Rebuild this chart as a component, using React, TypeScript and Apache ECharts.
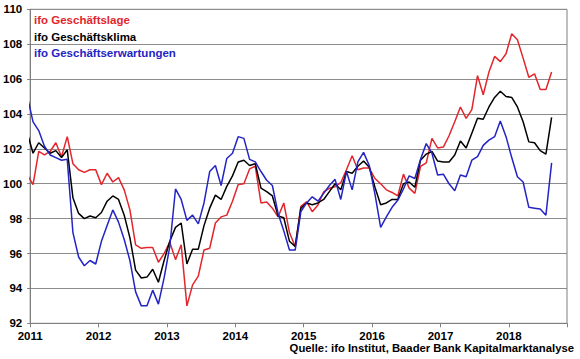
import React, { useEffect, useRef } from "react";
import * as echarts from "echarts";

// First data month: December 2010 (clipped at the left edge), monthly to August 2018
const START_YEAR = 2010;
const START_MONTH = 12;

const seriesNames = ["ifo Geschäftslage", "ifo Geschäftsklima", "ifo Geschäftserwartungen"];
const sourceText = "Quelle: ifo Institut, Baader Bank Kapitalmarktanalyse";

const geschaeftslage = [
  100.5,
  99.95, 101.85, 101.65, 101.85, 102.35, 101.55, 102.7, 101.15, 100.8, 100.65, 100.8, 100.8,
  99.95, 100.6, 100.1, 100.35, 99.65, 98.5, 96.5, 96.3, 96.35, 96.35, 95.5, 96.0,
  96.65, 95.65, 96.5, 93.0, 94.2, 94.7, 96.2, 96.3, 97.75, 98.1, 98.2, 99.0,
  99.95, 100.0, 100.85, 101.0, 98.9, 98.95, 98.6, 98.1, 98.9, 97.2, 96.4, 98.7,
  98.97, 98.4, 98.78, 99.54, 99.74, 99.83, 100.06, 100.8, 101.6, 100.8, 100.9, 100.9,
  100.3, 100.0, 99.65, 99.5, 99.3, 100.55, 99.75, 99.45, 101.0, 101.2, 102.6, 102.05,
  102.1, 102.75, 103.55, 104.4, 103.75, 104.25, 106.2, 105.1, 106.4, 107.3, 107.0, 107.45,
  108.6, 108.25, 107.2, 106.1, 106.3, 105.4, 105.4, 106.4,
];

const geschaeftsklima = [
  102.9,
  101.75, 102.35, 102.05, 101.75, 101.9, 101.5, 101.95, 99.2, 98.3, 98.0, 98.15, 98.05,
  98.35, 99.0, 99.3, 99.1, 98.2, 96.9, 95.05, 94.6, 94.65, 95.1, 94.35, 95.6,
  96.7, 97.5, 97.75, 95.4, 96.25, 96.25, 97.6, 98.6, 99.35, 99.1, 99.85, 100.45,
  101.25, 101.35, 101.05, 101.15, 99.75, 99.55, 99.3, 98.15, 98.05, 96.7, 96.4, 98.6,
  98.9, 98.8, 98.9, 99.1, 99.55, 100.0, 99.65, 100.7, 100.6, 101.0, 101.3, 100.95,
  99.8, 98.8, 98.9, 99.1, 99.1, 100.0, 100.1, 99.8, 101.35, 101.7, 101.85, 101.3,
  101.25, 101.25, 101.65, 102.45, 102.05, 102.9, 103.75, 103.7, 104.4, 104.95, 105.3, 105.0,
  104.95, 104.4, 103.55, 102.4, 102.35, 101.9, 101.7, 103.8,
];

const geschaeftserwartungen = [
  105.0,
  103.55, 103.05, 102.15, 101.65, 101.5, 101.35, 101.4, 97.2, 95.8, 95.3, 95.6, 95.4,
  96.7, 97.6, 98.5, 97.8, 96.8, 95.6, 93.8, 93.0, 93.0, 93.9, 93.1, 94.6,
  96.4, 99.7, 99.1, 97.9, 98.2, 97.7, 98.9, 100.7, 101.05, 99.9, 101.45, 101.75,
  102.7, 102.6, 101.4, 101.25, 100.7, 100.2, 99.9, 98.3, 97.3, 96.2, 96.2, 98.4,
  98.9, 99.25, 99.0, 99.45, 99.9, 100.25, 99.1, 100.7, 99.65, 101.25, 101.8, 101.05,
  99.4, 97.5, 98.1, 98.65, 99.05, 99.7, 100.45, 100.3, 101.4, 102.3, 101.75, 100.5,
  100.55, 100.0, 99.6, 100.5, 100.4, 101.35, 101.55, 102.2, 102.5, 102.7, 103.6, 102.7,
  101.5, 100.4, 100.1, 98.65, 98.6, 98.55, 98.2, 101.2,
];

const seriesColors = ["#e2262c", "#000000", "#2424c4"];
const FONT = "'Liberation Sans', Arial, sans-serif";

function toPoints(values: number[]): [number, number][] {
  return values.map((v, i) => {
    const m = START_MONTH - 1 + i;
    const year = START_YEAR + Math.floor(m / 12);
    const month = m % 12;
    return [year + (month + 0.5) / 12, v];
  });
}

export default function App() {
  const ref = useRef<HTMLDivElement>(null);
  useEffect(() => {
    if (!ref.current) return;
    const chart = echarts.init(ref.current, undefined, { renderer: "svg" });
    const allData = [geschaeftslage, geschaeftsklima, geschaeftserwartungen];
    chart.setOption({
      animation: false,
      backgroundColor: "#ffffff",
      grid: {
        left: 30,
        right: 13,
        top: 9.3,
        bottom: 35.7,
        show: true,
        borderColor: "#7f7f7f",
        borderWidth: 1,
      },
      xAxis: {
        type: "value",
        min: 2011,
        max: 2018.85,
        interval: 1,
        axisLine: { show: true, onZero: false, lineStyle: { color: "#7f7f7f", width: 1 } },
        axisTick: { show: true, length: 4, lineStyle: { color: "#7f7f7f" } },
        splitLine: { show: false },
        axisLabel: {
          formatter: (v: number) => (Math.abs(v - Math.round(v)) < 1e-6 ? String(Math.round(v)) : ""),
          color: "#000",
          fontWeight: "bold",
          fontSize: 11.5,
          fontFamily: FONT,
          margin: 7,
        },
      },
      yAxis: {
        type: "value",
        min: 92,
        max: 110,
        interval: 2,
        axisLine: { show: true, lineStyle: { color: "#7f7f7f", width: 1 } },
        axisTick: { show: true, length: 3, lineStyle: { color: "#7f7f7f" } },
        splitLine: { show: true, lineStyle: { color: "#8c8c8c", width: 1 } },
        axisLabel: {
          color: "#000",
          fontWeight: "bold",
          fontSize: 11.5,
          fontFamily: FONT,
          margin: 8,
        },
      },
      series: allData.map((d, k) => ({
        name: seriesNames[k],
        type: "line",
        data: toPoints(d),
        showSymbol: false,
        symbol: "none",
        clip: true,
        lineStyle: { color: seriesColors[k], width: 1.5 },
        itemStyle: { color: seriesColors[k] },
        z: 2 + k,
      })),
      graphic: [
        ...seriesNames.map((n, k) => ({
          type: "text",
          left: 34,
          top: 14 + k * 16.5,
          style: {
            text: n,
            fill: seriesColors[k],
            font: `bold 11.5px ${FONT}`,
          },
          z: 10,
        })),
        {
          type: "text",
          right: 6,
          top: 342,
          style: {
            text: sourceText,
            fill: "#000",
            font: `bold 11.3px ${FONT}`,
          },
          z: 10,
        },
      ],
    });
    return () => chart.dispose();
  }, []);
  return (
    <div
      ref={ref}
      style={{ position: "fixed", left: 0, top: 0, width: 580, height: 359 }}
    />
  );
}
